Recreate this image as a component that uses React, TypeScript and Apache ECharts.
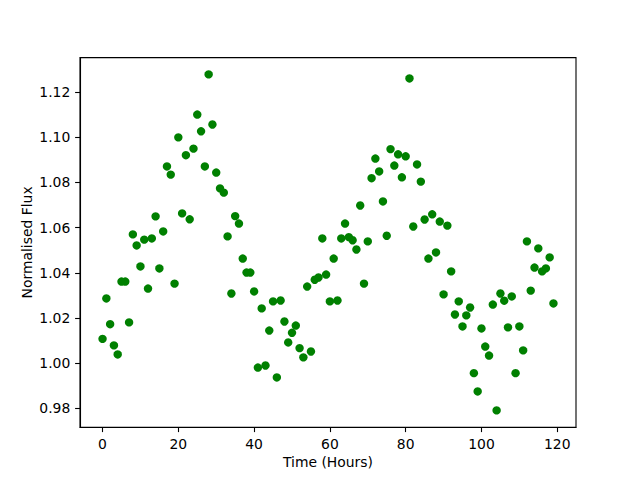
import React, { useEffect, useRef } from "react";
import * as echarts from "echarts";

const hours: number[] = Array.from({ length: 120 }, (_, i) => i);
const flux: number[] = [
  1.0107, 1.0286, 1.0172, 1.0078, 1.0038, 1.0361, 1.0361, 1.018, 1.057, 1.0521,
  1.0428, 1.0547, 1.033, 1.0552, 1.065, 1.0419, 1.0583, 1.0871, 1.0835, 1.0352,
  1.1, 1.0663, 1.0921, 1.0637, 1.095, 1.1101, 1.1027, 1.0871, 1.1279, 1.1057,
  1.0844, 1.0774, 1.0755, 1.0561, 1.0308, 1.0651, 1.0618, 1.0463, 1.0401, 1.0401,
  1.0317, 0.998, 1.0242, 0.9989, 1.0144, 1.0273, 0.9936, 1.0277, 1.0184, 1.0091,
  1.0134, 1.0166, 1.0066, 1.0025, 1.0339, 1.0051, 1.0369, 1.0379, 1.0552, 1.0392,
  1.0273, 1.0463, 1.0277, 1.0552, 1.0618, 1.0558, 1.0544, 1.0503, 1.0698, 1.0352,
  1.0539, 1.0819, 1.0906, 1.0849, 1.0716, 1.0564, 1.0948, 1.0875, 1.0925, 1.0823,
  1.0916, 1.1261, 1.0605, 1.088, 1.0804, 1.0636, 1.0463, 1.0659, 1.049, 1.0627,
  1.0304, 1.0609, 1.0406, 1.0215, 1.0273, 1.0162, 1.0211, 1.0246, 0.9955, 0.9874,
  1.0153, 1.0073, 1.0033, 1.0259, 0.979, 1.0308, 1.0276, 1.0158, 1.0295, 0.9955,
  1.0162, 1.0056, 1.0539, 1.0321, 1.0423, 1.0508, 1.0406, 1.0419, 1.0468, 1.0264,
];
const xTicks: number[] = [0, 20, 40, 60, 80, 100, 120];
const yTicks: number[] = [0.98, 1.0, 1.02, 1.04, 1.06, 1.08, 1.1, 1.12];

const FONT = "DejaVu Sans";

export default function App() {
  const ref = useRef<HTMLDivElement>(null);
  useEffect(() => {
    if (!ref.current) return;
    const chart = echarts.init(ref.current, undefined, { renderer: "svg" });
    const xs = hours;
    const ys = flux;
    const xMin = Math.min(...xs), xMax = Math.max(...xs);
    const yMin = Math.min(...ys), yMax = Math.max(...ys);
    const xPad = (xMax - xMin) * 0.05;
    const yPad = (yMax - yMin) * 0.05;
    const axisCommon = {
      axisLine: { show: true, onZero: false, lineStyle: { color: "#000", width: 1.1 } },
      splitLine: { show: false },
      nameMoveOverlap: false,
      nameTextStyle: { color: "#000", fontFamily: FONT, fontSize: 13.9 },
    };
    chart.setOption({
      animation: false,
      backgroundColor: "#fff",
      grid: {
        left: 80,
        right: 64,
        top: 57.6,
        bottom: 52.8,
        show: true,
        borderColor: "#000",
        borderWidth: 1.1,
        backgroundColor: "transparent",
      },
      xAxis: {
        type: "value",
        min: xMin - xPad,
        max: xMax + xPad,
        name: "Time (Hours)",
        nameLocation: "middle",
        nameGap: 28,
        ...axisCommon,
        axisTick: {
          show: true,
          customValues: xTicks,
          length: 4.9,
          lineStyle: { color: "#000", width: 1.1 },
        },
        axisLabel: {
          customValues: xTicks,
          margin: 9.7,
          color: "#000",
          fontFamily: FONT,
          fontSize: 13.9,
          formatter: (v: number) => String(Math.round(v)),
        },
      },
      yAxis: {
        type: "value",
        min: yMin - yPad,
        max: yMax + yPad,
        name: "Normalised Flux",
        nameLocation: "middle",
        nameGap: 46,
        ...axisCommon,
        axisTick: {
          show: true,
          customValues: yTicks,
          length: 4.9,
          lineStyle: { color: "#000", width: 1.1 },
        },
        axisLabel: {
          customValues: yTicks,
          margin: 9.7,
          color: "#000",
          fontFamily: FONT,
          fontSize: 13.9,
          formatter: (v: number) => v.toFixed(2),
        },
      },
      series: [
        {
          type: "scatter",
          data: xs.map((x, i) => [x, ys[i]]),
          symbol: "circle",
          symbolSize: 8.4,
          itemStyle: { color: "#008000", opacity: 1 },
          emphasis: { disabled: true },
          silent: true,
        },
      ],
    });
    return () => chart.dispose();
  }, []);
  return (
    <div
      ref={ref}
      style={{ position: "fixed", left: 0, top: 0, width: 640, height: 480 }}
    />
  );
}
